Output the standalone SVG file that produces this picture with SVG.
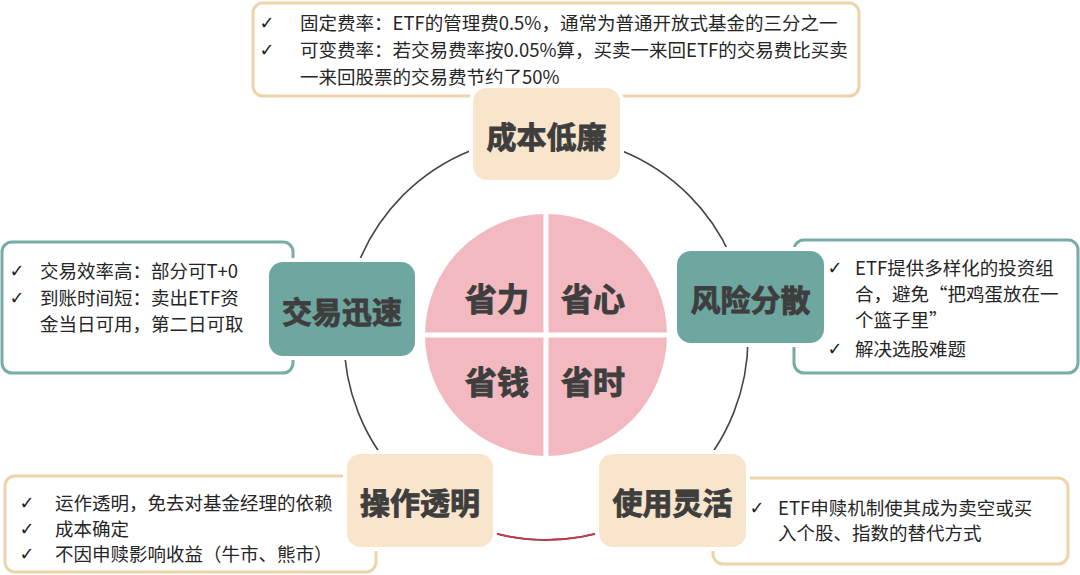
<svg xmlns="http://www.w3.org/2000/svg" width="1080" height="575" viewBox="0 0 1080 575">
<style>
.tb-b{fill:#fff;stroke:#eed4aa;stroke-width:3}
.tb-t{fill:#fff;stroke:#79aca7;stroke-width:3}
.nb{fill:#f8e5cb;stroke:#fff;stroke-width:8;paint-order:stroke}
.nt{fill:#6ea6a0;stroke:#fff;stroke-width:8;paint-order:stroke}
.lbl{font-family:"Noto Sans CJK SC","Noto Sans",sans-serif;font-weight:bold;font-size:30px;fill:#3e3e3e;stroke:#3e3e3e;stroke-width:0.9;text-anchor:middle;dominant-baseline:central}
.big{font-size:32px}
.body{font-family:"Noto Sans CJK SC","Noto Sans",sans-serif;font-size:18.5px;fill:#262626;dominant-baseline:central}
.ck{font-family:"DejaVu Sans",sans-serif;font-size:18px;fill:#1e1e1e;dominant-baseline:central;text-anchor:middle}
.arc{fill:none;stroke:#454545;stroke-width:1.6}
</style>

<g id="textboxes">
  <g id="box-cost">
    <rect class="tb-b" x="253" y="3" width="606" height="93" rx="10"/>
    <text class="ck" x="267" y="22">✓</text>
    <text class="body" x="300" y="22">固定费率：ETF的管理费0.5%，通常为普通开放式基金的三分之一</text>
    <text class="ck" x="267" y="49">✓</text>
    <text class="body" x="300" y="49">可变费率：若交易费率按0.05%算，买卖一来回ETF的交易费比买卖</text>
    <text class="body" x="300" y="76">一来回股票的交易费节约了50%</text>
  </g>
  <g id="box-fast">
    <rect class="tb-t" x="2" y="242" width="291" height="131" rx="10"/>
    <text class="ck" x="17" y="270">✓</text>
    <text class="body" x="40" y="270">交易效率高：部分可T+0</text>
    <text class="ck" x="17" y="297">✓</text>
    <text class="body" x="40" y="297">到账时间短：卖出ETF资</text>
    <text class="body" x="40" y="323">金当日可用，第二日可取</text>
  </g>
  <g id="box-risk">
    <rect class="tb-t" x="794" y="240" width="284" height="133" rx="10"/>
    <text class="ck" x="835" y="267">✓</text>
    <text class="body" x="855" y="267">ETF提供多样化的投资组</text>
    <text class="body" x="855" y="293">合，避免“把鸡蛋放在一</text>
    <text class="body" x="855" y="319">个篮子里”</text>
    <text class="ck" x="835" y="348">✓</text>
    <text class="body" x="855" y="348">解决选股难题</text>
  </g>
  <g id="box-transparent">
    <rect class="tb-b" x="5" y="476" width="371" height="96" rx="10"/>
    <text class="ck" x="27" y="502">✓</text>
    <text class="body" x="55" y="502">运作透明，免去对基金经理的依赖</text>
    <text class="ck" x="27" y="528">✓</text>
    <text class="body" x="55" y="528">成本确定</text>
    <text class="ck" x="27" y="553">✓</text>
    <text class="body" x="55" y="553">不因申赎影响收益（牛市、熊市）</text>
  </g>
  <g id="box-flexible">
    <rect class="tb-b" x="713" y="478" width="355" height="86" rx="10"/>
    <text class="ck" x="757" y="507">✓</text>
    <text class="body" x="778" y="507">ETF申赎机制使其成为卖空或买</text>
    <text class="body" x="778" y="532">入个股、指数的替代方式</text>
  </g>
</g>

<g id="connectors">
  <circle class="arc" cx="546" cy="338" r="202"/>
  <path d="M480,528.9 A202,202 0 0 0 612,528.9" fill="none" stroke="#c33a4c" stroke-width="1.8"/>
</g>

<g id="center">
  <circle cx="546" cy="335" r="121" fill="#f2b9c0"/>
  <rect x="543.5" y="210" width="5" height="250" fill="#fff"/>
  <rect x="420" y="332.5" width="252" height="5" fill="#fff"/>
  <text class="lbl big" x="497" y="297">省力</text>
  <text class="lbl big" x="593" y="297">省心</text>
  <text class="lbl big" x="497" y="380">省钱</text>
  <text class="lbl big" x="593" y="380">省时</text>
</g>

<g id="node-cost">
  <rect class="nb" x="473" y="88" width="147" height="92" rx="14"/>
  <text class="lbl" x="546.5" y="135">成本低廉</text>
</g>
<g id="node-fast">
  <rect class="nt" x="269" y="262" width="146" height="94" rx="14"/>
  <text class="lbl" x="342" y="310">交易迅速</text>
</g>
<g id="node-risk">
  <rect class="nt" x="677" y="251" width="147" height="92" rx="14"/>
  <text class="lbl" x="750.5" y="298">风险分散</text>
</g>
<g id="node-transparent">
  <rect class="nb" x="347" y="454" width="146" height="93" rx="14"/>
  <text class="lbl" x="420" y="501">操作透明</text>
</g>
<g id="node-flexible">
  <rect class="nb" x="599" y="454" width="147" height="93" rx="14"/>
  <text class="lbl" x="672.5" y="501">使用灵活</text>
</g>
</svg>
